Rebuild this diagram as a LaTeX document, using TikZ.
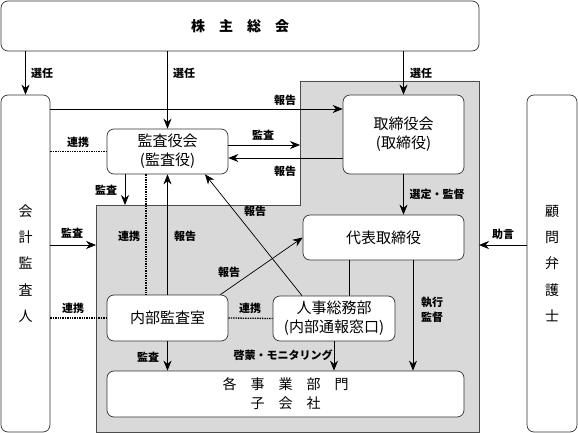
\documentclass[tikz,border=0pt]{standalone}
\usepackage{fontspec}
\setmainfont{Noto Sans CJK JP}
\usetikzlibrary{arrows.meta}
\begin{document}
\begin{tikzpicture}[x=1pt,y=-1pt,
    box/.style={draw=black!80,fill=white,rounded corners=7pt,line width=0.7pt,
                inner sep=0pt,align=center,font=\fontsize{15}{19}\selectfont},
    tall/.style={box,font=\fontsize{14}{26.25}\selectfont},
    lbl/.style={inner sep=0pt,align=center,font=\fontsize{11}{15}\selectfont\bfseries},
    arr/.style={-{Stealth[length=10pt,width=8pt]},line width=0.7pt},
    link/.style={dash pattern=on 1.4pt off 1pt,line width=1.3pt}]
  \useasboundingbox (0,0) rectangle (578,433);
  \fill[black!15,draw=black!70,line width=0.7pt] (96,205) -- (300,205) -- (300,81)
       -- (479,81) -- (479,432) -- (96,432) -- cycle;
  \coordinate (gtop) at (300,145);
  \coordinate (gleft) at (96,245);
  \coordinate (gright) at (479,245);
  \coordinate (gmid) at (125,205);
  \node[box,minimum width=478,minimum height=50,font=\fontsize{14}{18}\selectfont\bfseries] (soukai) at (240,26) {株　主　総　会};
  \node[tall,minimum width=49,minimum height=337] (kaikei) at (25.5,263.5) {会\\計\\監\\査\\人};
  \node[tall,minimum width=50,minimum height=337] (komon) at (552,263.5) {顧\\問\\弁\\護\\士};
  \node[box,minimum width=121,minimum height=45] (kansayaku) at (167.5,151.5) {監査役会\\(監査役)};
  \node[box,minimum width=121,minimum height=79] (torishimari) at (403.5,134.5) {取締役会\\(取締役)};
  \node[box,minimum width=161,minimum height=45] (daihyo) at (383.5,237.5) {代表取締役};
  \node[box,minimum width=121,minimum height=46] (naibu) at (167.5,318) {内部監査室};
  \node[box,minimum width=122,minimum height=45] (jinji) at (334,318.5) {人事総務部\\(内部通報窓口)};
  \node[box,minimum width=357,minimum height=46,font=\fontsize{14}{19}\selectfont] (jigyo) at (285.5,394) {各　事　業　部　門\\子　会　社};
  \draw[arr] (soukai.south -| kaikei) -- (kaikei.north);
  \draw[arr] (soukai.south -| kansayaku) -- (kansayaku.north);
  \draw[arr] (soukai.south -| torishimari) -- (torishimari.north);
  \draw[arr] (kaikei.east |- 0,109) -- (torishimari.west |- 0,109);
  \draw[arr] (kansayaku.east |- gtop) -- (gtop);
  \draw[arr] (torishimari.west |- 0,158) -- (kansayaku.east |- 0,158);
  \draw[link] (kaikei.east |- kansayaku.west) -- (kansayaku.west);
  \draw[arr] (kansayaku.south -| gmid) -- (gmid);
  \draw[link] (kansayaku.south -| 146,0) -- (naibu.north -| 146,0);
  \draw[arr] (naibu.north) -- (kansayaku.south);
  \draw[arr] ([xshift=-32]jinji.north) -- ([xshift=37.5]kansayaku.south);
  \draw[arr] ([xshift=-8]naibu.north east) -- (daihyo.west);
  \draw[arr] (torishimari.south) -- (torishimari.south |- daihyo.north);
  \draw[arr] (komon.west |- gright) -- (gright);
  \draw[arr] (kaikei.east |- gleft) -- (gleft);
  \draw[line width=0.7pt] (daihyo.south -| 349,0) -- (jinji.north -| 349,0);
  \draw[arr] (daihyo.south -| 413,0) -- (jigyo.north -| 413,0);
  \draw[link] (kaikei.east |- naibu.west) -- (naibu.west);
  \draw[link] (naibu.east) -- (jinji.west);
  \draw[arr] (naibu.south) -- (jigyo.north -| naibu);
  \draw[arr] (jinji.south) -- (jigyo.north -| jinji);
  \node[lbl] (s1) at (42,73) {選任};
  \node[lbl] (s2) at (184,73) {選任};
  \node[lbl] (s3) at (421,73) {選任};
  \node[lbl] (h1) at (285,100) {報告};
  \node[lbl] (k1) at (263,135) {監査};
  \node[lbl] (h2) at (285,171) {報告};
  \node[lbl] (r1) at (78,142) {連携};
  \node[lbl] (k2) at (106,190) {監査};
  \node[lbl] (r2) at (129,236) {連携};
  \node[lbl] (h3) at (185,236) {報告};
  \node[lbl] (h4) at (255,211) {報告};
  \node[lbl] (h5) at (229,272) {報告};
  \node[lbl] (sk) at (437,194) {選定・監督};
  \node[lbl] (jo) at (503,234) {助言};
  \node[lbl] (k3) at (72,233) {監査};
  \node[lbl] (sh) at (432,310) {執行\\監督};
  \node[lbl] (r3) at (73,308) {連携};
  \node[lbl] (r4) at (250,308) {連携};
  \node[lbl] (k4) at (148,357) {監査};
  \node[lbl] (km) at (283,355) {啓蒙・モニタリング};
\end{tikzpicture}
\end{document}
